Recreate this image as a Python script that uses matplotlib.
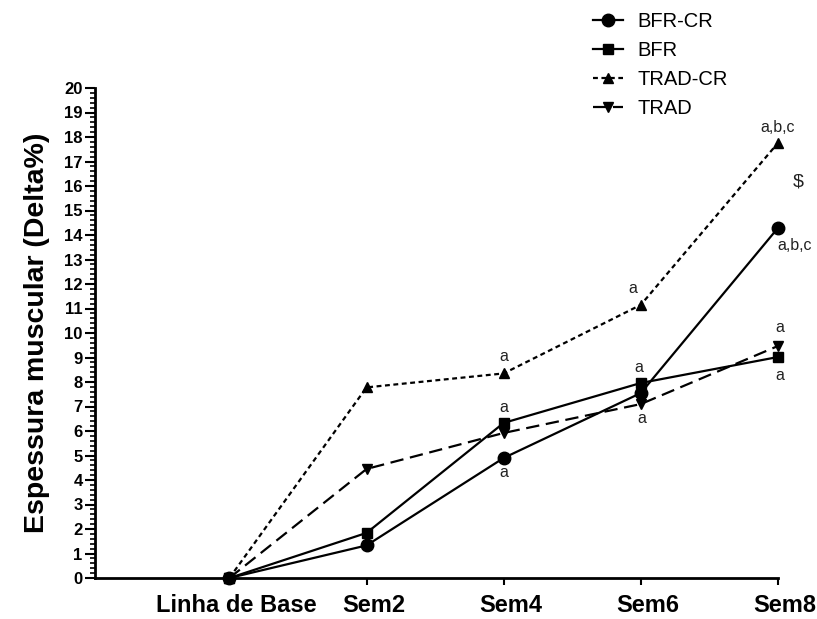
import matplotlib
matplotlib.use("Agg")
import matplotlib.pyplot as plt
import matplotlib.transforms as mtransforms
from matplotlib.ticker import AutoMinorLocator

plt.rcParams['font.family'] = ['Liberation Sans', 'DejaVu Sans']

categories = ["Linha de Base", "Sem2", "Sem4", "Sem6", "Sem8"]
bfr_cr = [0, 1.33, 4.9, 7.55, 14.29]
bfr = [0, 1.84, 6.33, 7.96, 9.02]
trad_cr = [0, 7.78, 8.35, 11.15, 17.76]
trad = [0, 4.45, 5.92, 7.1, 9.47]
y_ticks = list(range(0, 21))

# (series, point index, text, dx px, dy px, ha)
annotations = [
    ("TRAD-CR", 2, "a", 0, 17, "center"),
    ("BFR", 2, "a", 0, 15, "center"),
    ("BFR-CR", 2, "a", 0, -15, "center"),
    ("TRAD-CR", 3, "a", -8, 16, "center"),
    ("BFR", 3, "a", -2, 15, "center"),
    ("TRAD", 3, "a", 1, -14, "center"),
    ("TRAD-CR", 4, "a,b,c", 0, 15, "center"),
    ("TRAD-CR", 4, "$", 20, -39, "center"),
    ("BFR-CR", 4, "a,b,c", -1, -18, "left"),
    ("TRAD", 4, "a", 2, 18, "center"),
    ("BFR", 4, "a", 2, -18, "center"),
]

series = {
    "BFR-CR": dict(y=bfr_cr, marker="o", ms=9, ls="-", dashes=None),
    "BFR": dict(y=bfr, marker="s", ms=7.5, ls="-", dashes=None),
    "TRAD-CR": dict(y=trad_cr, marker="^", ms=7.5, ls="--", dashes=(2.2, 1.6)),
    "TRAD": dict(y=trad, marker="v", ms=7.5, ls="--", dashes=(6, 3)),
}

fig = plt.figure(figsize=(8.17, 6.19), dpi=100)
ax = fig.add_axes([95/817, 1-578/619, (778-95)/817, (578-88)/619])

x = list(range(len(categories)))
handles = []
for name, s in series.items():
    kw = dict(color="black", lw=1.6, marker=s["marker"], ms=s["ms"],
              ls=s["ls"], clip_on=False, zorder=3, label=name)
    line, = ax.plot(x, s["y"], **kw)
    if s["dashes"]:
        line.set_dashes(s["dashes"])
    handles.append(line)

for name, idx, txt, dx, dy, ha in annotations:
    yv = series[name]["y"][idx]
    fs = 14 if txt == "$" else 11.5
    ax.annotate(txt, xy=(x[idx], yv), xytext=(dx, dy), textcoords="offset pixels",
                ha=ha, va="center", fontsize=fs, color="#222222")

ax.set_xlim(-0.98, 4)
ax.set_ylim(0, 20)
ax.set_xticks(x)
ax.set_xticklabels([])
shift = mtransforms.ScaledTranslation(7/100, -16/100, fig.dpi_scale_trans)
xtrans = ax.get_xaxis_transform() + shift
for xi, cat in zip(x, categories):
    ax.text(xi, 0, cat, transform=xtrans, ha="center", va="top",
            fontsize=17, fontweight="bold", clip_on=False)
ax.xaxis.get_major_ticks()[0].tick1line.set_visible(False)
ax.set_yticks(y_ticks)
ax.set_yticklabels([str(v) for v in y_ticks], fontsize=12, fontweight="bold")
ax.yaxis.set_minor_locator(AutoMinorLocator(5))
ax.tick_params(axis="y", which="major", direction="out", length=7, width=1.5, pad=2)
ax.tick_params(axis="y", which="minor", direction="out", length=3.5, width=1.2)
ax.tick_params(axis="x", which="major", direction="out", length=5, width=1.5)
for sp in ["top", "right"]:
    ax.spines[sp].set_visible(False)
for sp in ["left", "bottom"]:
    ax.spines[sp].set_linewidth(2)
ax.set_ylabel("Espessura muscular (Delta%)", fontsize=20.5, fontweight="bold", labelpad=10)

fig.legend(handles=handles, loc="upper left", bbox_to_anchor=(593/817, 1-12/619),
           frameon=False, fontsize=14.5, handlelength=1.5, handletextpad=0.7,
           labelspacing=0.5, borderpad=0, borderaxespad=0)

fig.savefig("out.png", dpi=100)
